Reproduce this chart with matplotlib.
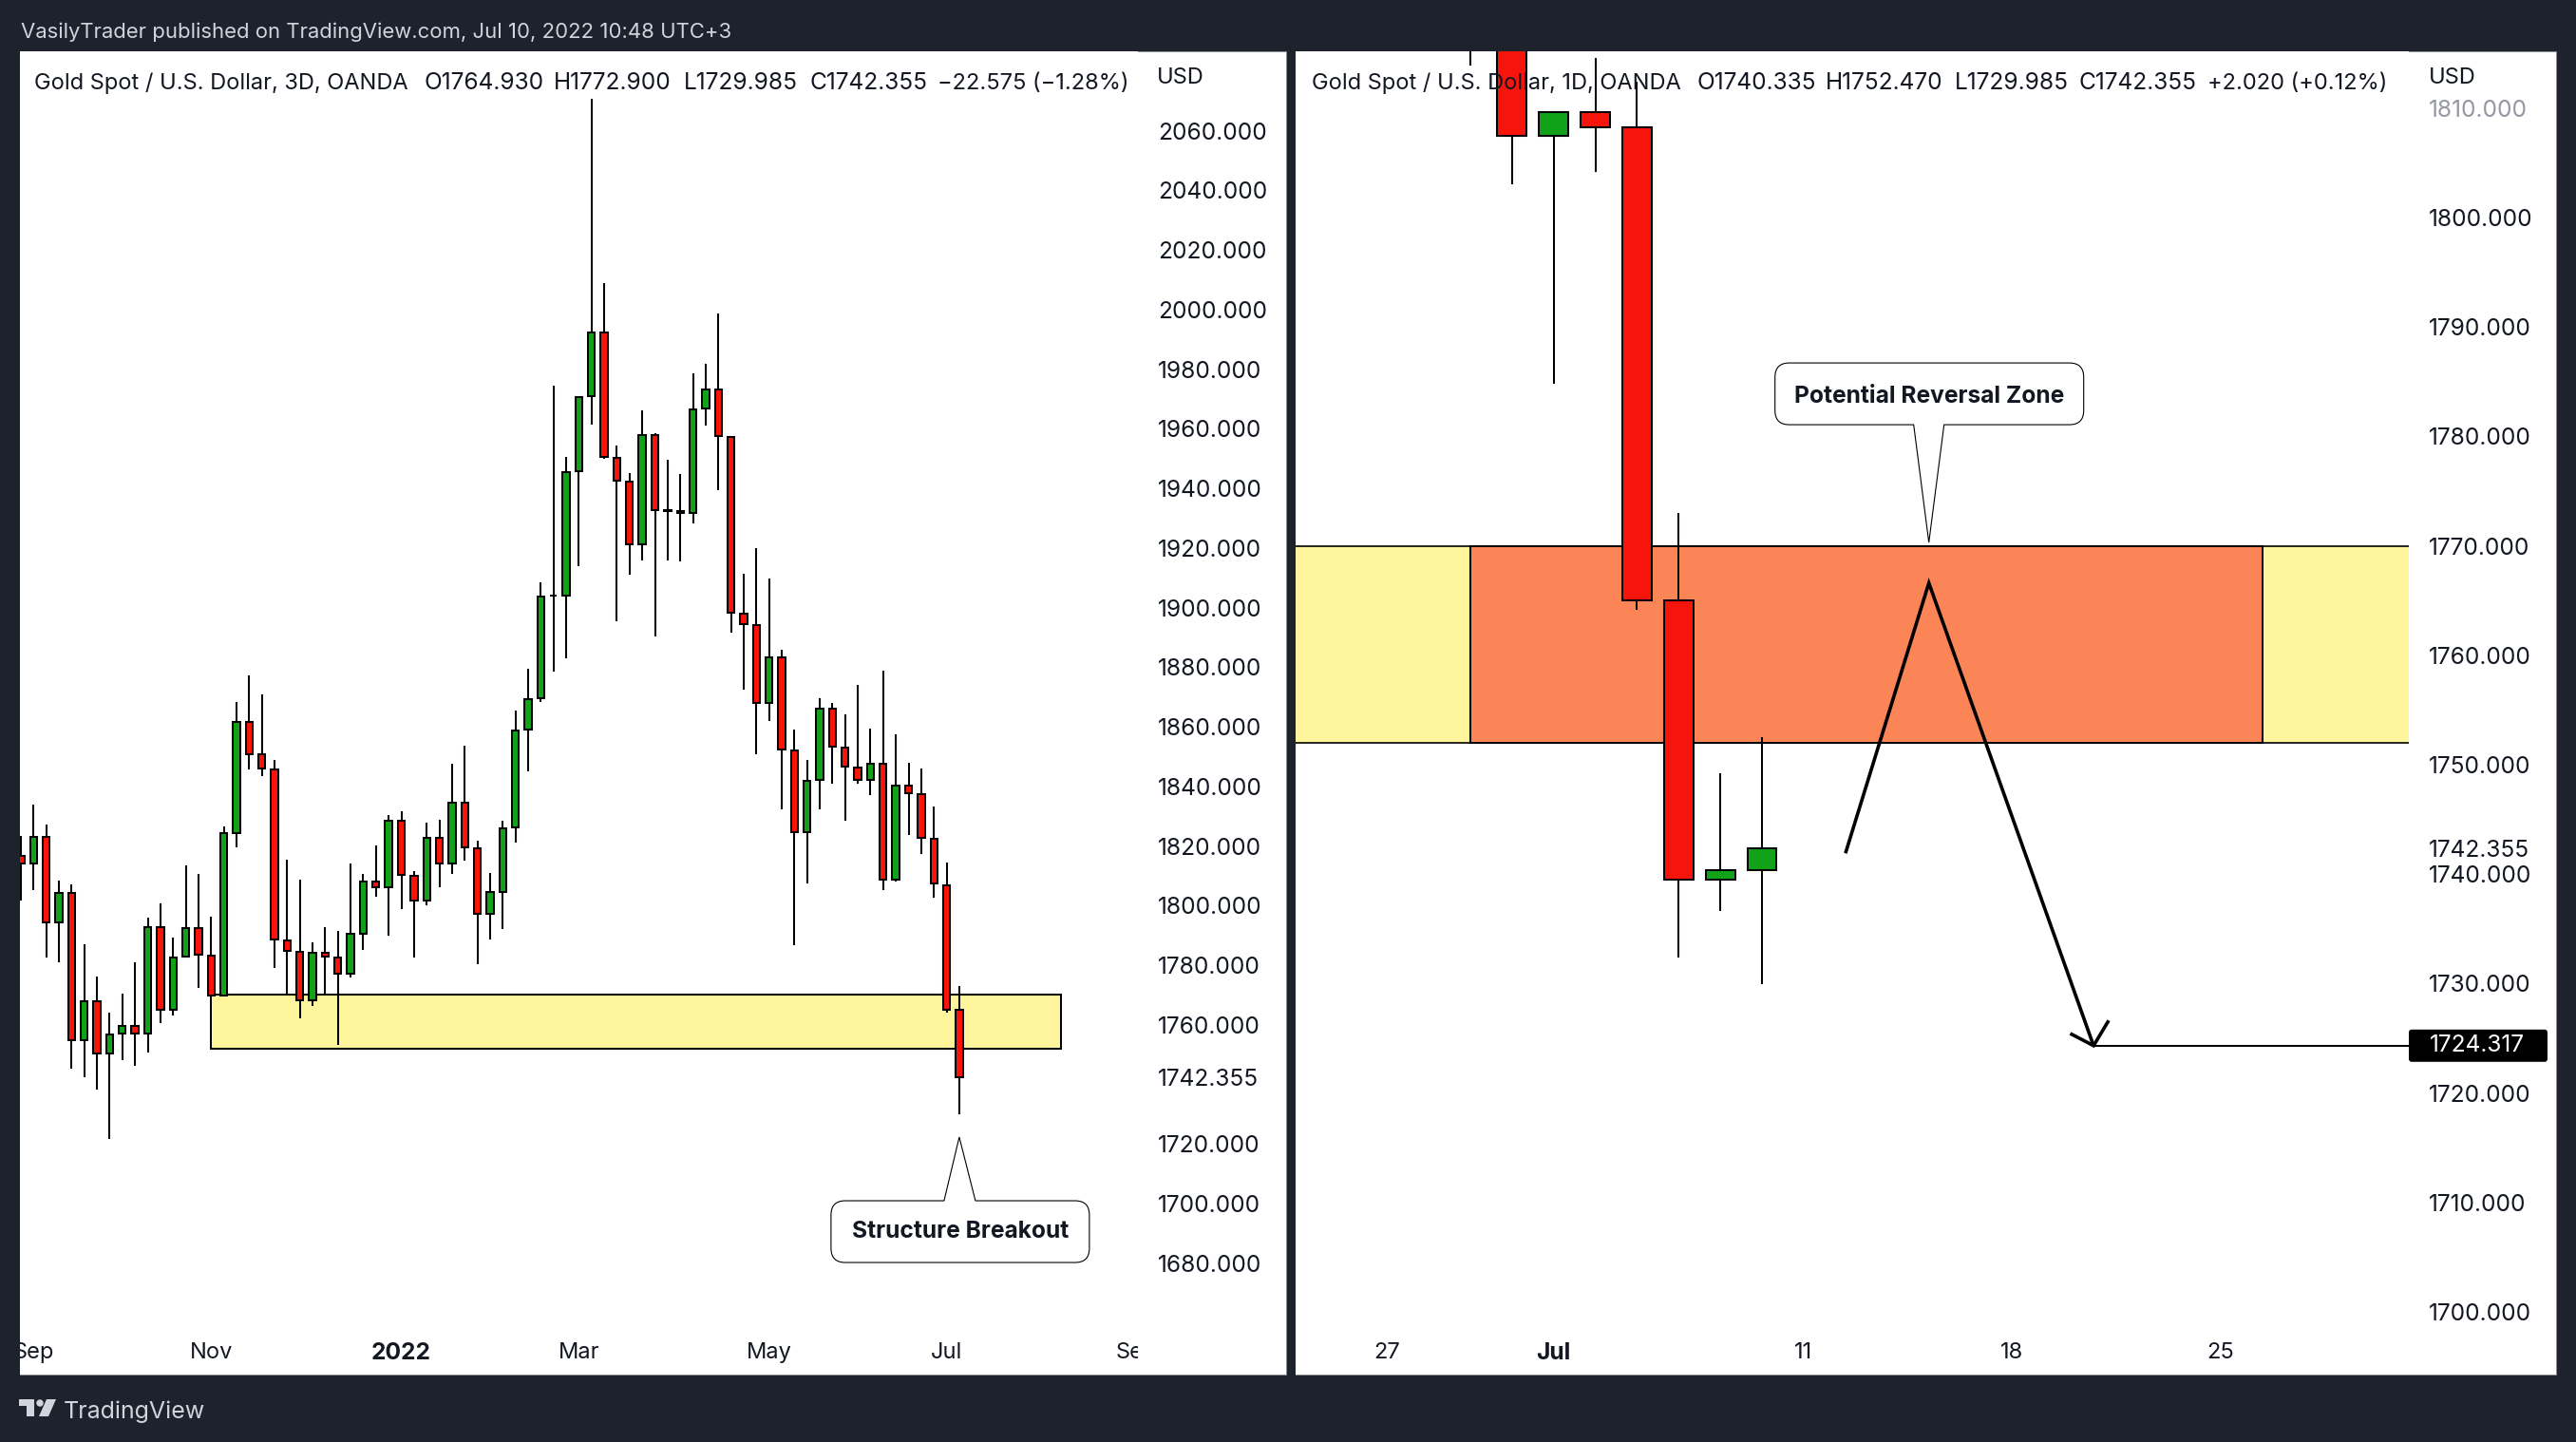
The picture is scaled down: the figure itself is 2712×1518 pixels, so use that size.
import matplotlib
matplotlib.use("Agg")
from matplotlib import pyplot as plt
from matplotlib.patches import Rectangle, PathPatch, Polygon, Circle, FancyBboxPatch
from matplotlib.path import Path
from matplotlib.ticker import FormatStrFormatter
from matplotlib.transforms import Affine2D, IdentityTransform

# 3D candles, left chart
left_open = [1816.8, 1814.1, 1823.0, 1794.4, 1804.3, 1754.9, 1767.8, 1750.4, 1757.2, 1759.5,
             1757.2, 1792.9, 1765.1, 1782.9, 1792.5, 1783.2, 1769.7, 1824.4, 1861.6, 1850.6,
             1845.8, 1788.4, 1784.6, 1768.2, 1784.0, 1782.7, 1777.2, 1790.4, 1808.1, 1806.0,
             1828.4, 1810.1, 1801.8, 1822.8, 1814.0, 1834.5, 1819.3, 1797.1, 1804.7, 1826.2,
             1859.0, 1869.6, 1903.9, 1904.0, 1945.7, 1970.9, 1992.3, 1950.2, 1942.3, 1921.3,
             1958.0, 1932.7, 1932.3, 1931.7, 1966.8, 1973.2, 1957.2, 1897.9, 1894.1, 1867.9,
             1883.2, 1851.9, 1824.7, 1842.3, 1866.2, 1852.9, 1846.3, 1842.3, 1847.6, 1808.8,
             1840.2, 1837.3, 1822.3, 1806.9, 1764.93]
left_high = [1823.2, 1834.0, 1827.3, 1808.5, 1807.0, 1787.1, 1776.3, 1764.1, 1770.3, 1781.1,
             1796.0, 1800.6, 1789.4, 1813.6, 1810.5, 1796.4, 1826.5, 1868.4, 1877.1, 1870.7,
             1848.9, 1815.5, 1808.7, 1787.7, 1792.9, 1791.5, 1814.1, 1810.5, 1820.3, 1830.2,
             1831.7, 1811.4, 1827.8, 1828.8, 1847.7, 1853.7, 1821.9, 1810.8, 1828.6, 1865.4,
             1879.3, 1908.3, 1974.3, 1950.4, 1970.6, 2070.6, 2008.9, 1954.4, 1945.2, 1966.0,
             1958.5, 1949.7, 1944.7, 1978.7, 1981.6, 1998.5, 1957.2, 1911.2, 1919.8, 1909.6,
             1885.7, 1858.9, 1849.0, 1869.7, 1868.0, 1864.0, 1874.1, 1859.5, 1878.8, 1857.6,
             1847.8, 1846.1, 1833.1, 1814.3, 1772.9]
left_low = [1801.8, 1805.1, 1782.7, 1780.9, 1745.4, 1742.3, 1738.1, 1721.8, 1748.1, 1746.2,
            1750.6, 1760.4, 1763.0, 1782.9, 1772.2, 1769.7, 1769.7, 1819.4, 1845.6, 1843.3,
            1779.0, 1769.7, 1762.0, 1766.4, 1769.7, 1753.1, 1775.7, 1785.0, 1803.1, 1789.8,
            1798.7, 1782.7, 1800.2, 1806.0, 1810.5, 1815.1, 1780.4, 1788.7, 1792.2, 1821.2,
            1844.9, 1868.3, 1878.4, 1883.1, 1914.0, 1961.3, 1950.0, 1895.3, 1910.9, 1915.9,
            1890.4, 1915.9, 1915.3, 1928.1, 1961.0, 1939.5, 1891.7, 1872.3, 1850.6, 1861.8,
            1832.2, 1786.8, 1807.5, 1832.4, 1841.0, 1828.5, 1840.8, 1837.1, 1805.3, 1807.9,
            1823.6, 1817.2, 1802.7, 1764.1, 1729.985]
left_close = [1814.1, 1823.0, 1794.4, 1804.3, 1754.9, 1767.8, 1750.4, 1756.8, 1759.5, 1757.2,
              1792.9, 1765.1, 1782.7, 1792.5, 1783.6, 1769.7, 1824.2, 1861.6, 1850.8, 1846.0,
              1788.6, 1784.8, 1768.2, 1784.0, 1782.9, 1777.2, 1790.4, 1808.1, 1806.0, 1828.4,
              1810.3, 1801.8, 1822.8, 1814.0, 1834.4, 1819.5, 1797.1, 1804.6, 1826.0, 1858.7,
              1869.3, 1903.7, 1904.0, 1945.4, 1970.6, 1992.3, 1950.4, 1942.6, 1921.3, 1958.0,
              1932.7, 1932.3, 1931.7, 1966.5, 1973.2, 1957.5, 1898.2, 1894.5, 1867.9, 1883.2,
              1852.3, 1824.7, 1841.9, 1866.2, 1853.4, 1846.6, 1842.3, 1847.6, 1808.8, 1840.2,
              1837.7, 1822.7, 1807.5, 1765.0, 1742.355]

# 1D candles, right chart (bar 0 would be Jun 27, first visible one is Jun 29)
right_bars = [2, 3, 4, 5, 6, 7, 8, 9]
right_open = [1830.0, 1826.0, 1807.5, 1809.6, 1808.2, 1765.0, 1739.5, 1740.335]
right_high = [1835.0, 1830.0, 1809.6, 1814.6, 1812.4, 1773.0, 1749.2, 1752.47]
right_low = [1813.9, 1803.0, 1784.8, 1804.2, 1764.1, 1732.4, 1736.6, 1729.985]
right_close = [1826.0, 1807.5, 1809.6, 1808.2, 1765.0, 1739.5, 1740.4, 1742.355]

left_yticks = [2060, 2040, 2020, 2000, 1980, 1960, 1940, 1920, 1900, 1880, 1860, 1840, 1820,
               1800, 1780, 1760, 1742.355, 1720, 1700, 1680]
right_yticks = [1810, 1800, 1790, 1780, 1770, 1760, 1750, 1742.355, 1740, 1730, 1720, 1710, 1700]

left_time_bars = [1, 15, 30, 44, 59, 73, 88]
left_time_labels = ["Sep", "Nov", "2022", "Mar", "May", "Jul", "Sep"]
right_time_bars = [0, 4, 10, 15, 20]
right_time_labels = ["27", "Jul", "11", "18", "25"]

zone_top = 1770
zone_bottom = 1752
left_zone_bars = [15, 82]
orange_zone_bars = [2, 21]
path_bars = [11, 13, 16.95]
path_prices = [1741.9, 1766.6, 1724.317]
target_line_bars = [16.95, 24.51]
target_price = 1724.317

WIDTH, HEIGHT = 2712, 1518
BG = "#1E222D"
UP = "#11A21A"
DOWN = "#F7140B"
YELLOW = "#FFF59D"
ORANGE = "#FB8556"
FONT = "Inter"
FS = 17.0
FS_PRICE = 17.6
FS_BOLD = 17.7

plt.rcParams["font.family"] = FONT

fig = plt.figure(figsize=(WIDTH / 100, HEIGHT / 100), dpi=100, facecolor=BG)
# image pixels, y going down
px = Affine2D().scale(1, -1).translate(0, HEIGHT)


def make_axes(x0, x1, pane_right, slope, bar0_x, y_ref, price_ref, y_scale):
    top, bottom = 54, 1447
    fig.add_artist(Rectangle((x0, top), pane_right - x0, bottom - top, transform=px,
                             facecolor="white", edgecolor="#8A8D96", linewidth=0.7, zorder=-1))
    ax = fig.add_axes([x0 / WIDTH, (HEIGHT - bottom) / HEIGHT, (x1 - x0) / WIDTH, (bottom - top) / HEIGHT])
    ax.set_facecolor("white")
    ax.set_xlim((x0 - bar0_x) / slope, (x1 - bar0_x) / slope)
    ax.set_ylim(price_ref - (bottom - y_ref) / y_scale, price_ref + (y_ref - top) / y_scale)
    for spine in ax.spines.values():
        spine.set_visible(False)
    ax.set_xticks([])
    ax.yaxis.tick_right()
    ax.tick_params(axis="y", length=0, pad=15, labelsize=FS_PRICE, labelcolor="#131722")
    ax.yaxis.set_major_formatter(FormatStrFormatter("%.3f"))
    return ax


def draw_candles(ax, bars, opens, highs, lows, closes, width):
    colors = [UP if c >= o else DOWN for o, c in zip(opens, closes)]
    ax.vlines(bars, lows, highs, color="black", linewidth=1.45, zorder=3)
    ax.bar(bars, [abs(c - o) for o, c in zip(opens, closes)], bottom=[min(o, c) for o, c in zip(opens, closes)],
           width=width, color=colors, edgecolor="black", linewidth=1.45, zorder=4)


def time_labels(ax, bars, labels, bold):
    for bar, label in zip(bars, labels):
        ax.text(bar, 0.0165, label, transform=ax.get_xaxis_transform(), ha="center", va="center",
                fontsize=FS_BOLD if label == bold else FS, color="#131722",
                fontweight="bold" if label == bold else "normal", clip_on=True)


def callout(ax, bar, price, text, box, base, text_dy):
    # box and base are pixel offsets from the tip, y up
    tx, ty = ax.transData.transform((bar, price))
    x0, x1, y0, y1 = tx + box[0], tx + box[1], ty + box[2], ty + box[3]
    r = 15
    verts = [(x0 + r, y0)]
    codes = [Path.MOVETO]
    if box[3] > 0:
        verts += [(tx + base[0], y0), (tx, ty), (tx + base[1], y0)]
        codes += [Path.LINETO] * 3
    verts += [(x1 - r, y0), (x1, y0), (x1, y0 + r), (x1, y1 - r), (x1, y1), (x1 - r, y1)]
    codes += [Path.LINETO, Path.CURVE3, Path.CURVE3, Path.LINETO, Path.CURVE3, Path.CURVE3]
    if box[3] < 0:
        verts += [(tx + base[1], y1), (tx, ty), (tx + base[0], y1)]
        codes += [Path.LINETO] * 3
    verts += [(x0 + r, y1), (x0, y1), (x0, y1 - r), (x0, y0 + r), (x0, y0), (x0 + r, y0)]
    codes += [Path.LINETO, Path.CURVE3, Path.CURVE3, Path.LINETO, Path.CURVE3, Path.CURVE3]
    ax.add_patch(PathPatch(Path(verts, codes), transform=IdentityTransform(), facecolor="white",
                           edgecolor="black", linewidth=0.8, zorder=6, clip_on=False))
    ax.annotate(text, xy=(bar, price), xytext=((box[0] + box[1]) / 2, text_dy), textcoords="offset pixels",
                ha="center", va="center", fontsize=FS_BOLD, fontweight="bold", color="#131722", zorder=7)


# left chart
ax_left = make_axes(21, 1198, 1354, 13.35, 22, 137.5, 2060, 3.1375)
ax_left.add_patch(Rectangle((left_zone_bars[0], zone_bottom), left_zone_bars[1] - left_zone_bars[0],
                            zone_top - zone_bottom, facecolor=YELLOW, edgecolor="black", linewidth=1.45, zorder=2))
draw_candles(ax_left, range(len(left_open)), left_open, left_high, left_low, left_close, 0.55)
ax_left.set_yticks(left_yticks)
time_labels(ax_left, left_time_bars, left_time_labels, "2022")
callout(ax_left, 74, 1722.3, "Structure Breakout", (-135, 137, -132, -67), (-16, 17), -99)

# right chart
ax_right = make_axes(1364, 2536, 2691, 43.9, 1460, 893, 1742.355, 11.52)
ax_right.add_patch(Rectangle((-5, zone_bottom), 40, zone_top - zone_bottom, facecolor=YELLOW,
                             edgecolor="black", linewidth=1.2, zorder=1))
ax_right.add_patch(Rectangle((orange_zone_bars[0], zone_bottom), orange_zone_bars[1] - orange_zone_bars[0],
                             zone_top - zone_bottom, facecolor=ORANGE, edgecolor="black", linewidth=1.45, zorder=2))
draw_candles(ax_right, right_bars, right_open, right_high, right_low, right_close, 0.70)
ax_right.plot(path_bars, path_prices, color="black", linewidth=2.6, zorder=5, solid_capstyle="butt", solid_joinstyle="miter")
ax_right.plot(target_line_bars, [target_price, target_price], color="black", linewidth=1.45, zorder=5)
ax_right.set_yticks(right_yticks)
ax_right.get_yticklabels()[0].set_color("#9598A1")
time_labels(ax_right, right_time_bars, right_time_labels, "Jul")
callout(ax_right, 13, 1770.3, "Potential Reversal Zone", (-162, 163, 124, 189), (-16, 16), 154)

# arrow head on the path end
tip_x, tip_y = ax_right.transData.transform((path_bars[-1], target_price))
ax_right.plot([tip_x - 23, tip_x, tip_x + 15], [tip_y + 12, tip_y, tip_y + 25], transform=IdentityTransform(),
              color="black", linewidth=2.6, zorder=5, solid_joinstyle="miter")

# price label of the target line
fig.add_artist(FancyBboxPatch((2536, tip_y * -1 + HEIGHT - 17), 146, 34, boxstyle="round,pad=0,rounding_size=3",
                              transform=px, facecolor="black", edgecolor="none", zorder=5))
fig.text(2558, HEIGHT - tip_y, "%.3f" % target_price, transform=px, color="white", fontsize=FS_PRICE, va="center", zorder=6)

# header lines
left_header = ["Gold Spot / U.S. Dollar, 3D, OANDA", "O1764.930", "H1772.900", "L1729.985", "C1742.355", "\u221222.575 (\u22121.28%)"]
left_header_x = [36, 446, 583, 720, 852, 987]
right_header = ["Gold Spot / U.S. Dollar, 1D, OANDA", "O1740.335", "H1752.470", "L1729.985", "C1742.355", "+2.020 (+0.12%)"]
right_header_x = [1381, 1786, 1922, 2058, 2189, 2324]
for label, x in zip(left_header + right_header, left_header_x + right_header_x):
    size = FS_PRICE if label[0] in "OHLC" and label[1].isdigit() else FS
    fig.text(x, 88, label, transform=px, fontsize=size, color="#131722", va="center", zorder=8)
fig.text(1218, 82, "USD", transform=px, fontsize=FS, color="#131722", va="center", zorder=8)
fig.text(2557, 82, "USD", transform=px, fontsize=FS, color="#131722", va="center", zorder=8)

# page title and footer
fig.text(22, 34, "VasilyTrader published on TradingView.com, Jul 10, 2022 10:48 UTC+3", transform=px,
         fontsize=15.9, color="#D1D4DC", va="center")
fig.text(67, 1486, "TradingView", transform=px, fontsize=18, color="#D1D4DC", va="center")
logo = "#D1D4DC"
fig.add_artist(Polygon([(20, 1473), (36, 1473), (36, 1491), (28, 1491), (28, 1480), (20, 1480)], transform=px, facecolor=logo, edgecolor="none"))
fig.add_artist(Circle((42, 1477), 3.7, transform=px, facecolor=logo, edgecolor="none"))
fig.add_artist(Polygon([(49, 1473), (59, 1473), (51, 1491), (41, 1491)], transform=px, facecolor=logo, edgecolor="none"))

fig.savefig("out.png", dpi=100, facecolor=BG)
